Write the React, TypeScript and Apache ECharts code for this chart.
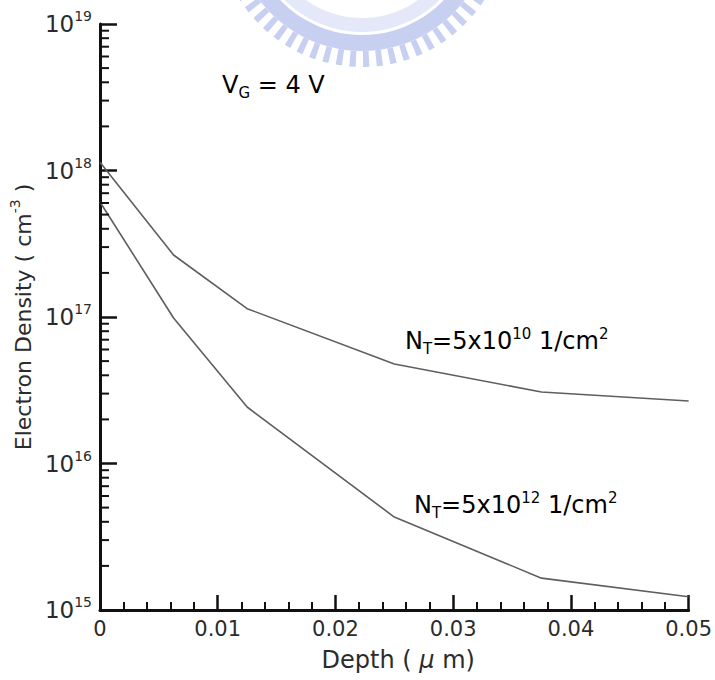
import React, { useEffect, useRef } from "react";
import * as echarts from "echarts";

const depthUm = [0, 0.00625, 0.0125, 0.025, 0.0375, 0.05];
const densityNT10 = [1.14e18, 2.65e17, 1.14e17, 4.78e16, 3.08e16, 2.67e16];
const densityNT12 = [6.1e17, 9.85e16, 2.43e16, 4.31e15, 1.65e15, 1.23e15];
const yMinExp = 15;
const yMaxExp = 19;
const minorMultipliers = [2, 3, 4, 5, 6, 7, 8, 9];

const FONT = "DejaVu Sans";
const TEXT = "#2b2b2b";
const AXIS = "#111111";
const LINE = "#5e5e5e";

export default function App() {
  const ref = useRef<HTMLDivElement>(null);
  useEffect(() => {
    if (!ref.current) return;
    const chart = echarts.init(ref.current, null, { renderer: "svg" });

    const minorTicks: number[][] = [];
    for (let e = yMinExp; e < yMaxExp; e++) {
      for (const m of minorMultipliers) minorTicks.push([0, m * Math.pow(10, e)]);
    }

    const ann = (sz: number) => ({
      a: { fontFamily: FONT, fontSize: sz, lineHeight: 30, color: TEXT },
      sub: { fontFamily: FONT, fontSize: 15, lineHeight: 16, verticalAlign: "bottom", color: TEXT },
      sup: { fontFamily: FONT, fontSize: 15, lineHeight: 22, verticalAlign: "top", color: TEXT },
    });

    chart.setOption({
      animation: false,
      backgroundColor: "#ffffff",
      grid: { left: 98, right: 25, top: 24, bottom: 70, containLabel: false },
      xAxis: {
        type: "value",
        min: 0,
        max: 0.05,
        interval: 0.01,
        name: "{a|Depth ( }{m|μ}{a| m)}",
        nameLocation: "middle",
        nameGap: 38,
        nameTextStyle: {
          padding: [0, 0, 0, 8],
          rich: {
            a: { fontFamily: FONT, fontSize: 24, color: TEXT },
            m: { fontFamily: FONT, fontSize: 24, fontStyle: "italic", color: TEXT },
          },
        },
        axisLine: { show: true, onZero: false, lineStyle: { color: AXIS, width: 3 } },
        axisTick: { show: true, inside: true, length: 15, lineStyle: { color: AXIS, width: 2.5 } },
        minorTick: { show: true, splitNumber: 5, length: 8, lineStyle: { color: AXIS, width: 2 } },
        splitLine: { show: false },
        axisLabel: {
          margin: 8,
          fontFamily: FONT,
          fontSize: 21,
          color: TEXT,
          formatter: (v: number) => (v === 0 ? "0" : v.toFixed(2)),
        },
      },
      yAxis: {
        type: "log",
        logBase: 10,
        min: Math.pow(10, yMinExp),
        max: Math.pow(10, yMaxExp),
        name: "{a|Electron Density ( cm}{s|-3}{a| )}",
        nameLocation: "middle",
        nameGap: 60,
        nameRotate: 90,
        nameTextStyle: {
          rich: {
            a: { fontFamily: FONT, fontSize: 22, lineHeight: 30, color: TEXT },
            s: { fontFamily: FONT, fontSize: 14, lineHeight: 20, verticalAlign: "top", color: TEXT },
          },
        },
        axisLine: { show: true, onZero: false, lineStyle: { color: AXIS, width: 3 } },
        axisTick: { show: true, inside: true, length: 17, lineStyle: { color: AXIS, width: 2.5 } },
        splitLine: { show: false },
        axisLabel: {
          margin: 8,
          color: TEXT,
          formatter: (v: number) => `{b|10}{s|${Math.round(Math.log10(v))}}`,
          rich: {
            b: { fontFamily: FONT, fontSize: 23, lineHeight: 30, color: TEXT },
            s: { fontFamily: FONT, fontSize: 14, lineHeight: 17, verticalAlign: "top", color: TEXT },
          },
        },
      },
      graphic: [
        {
          type: "group",
          z: -10,
          silent: true,
          children: [
            { type: "ring", shape: { cx: 362, cy: -78, r: 110, r0: 96 }, style: { fill: "#e4e8f9" } },
            { type: "ring", shape: { cx: 362, cy: -78, r: 129, r0: 113 }, style: { fill: "#c8d0f1" } },
            {
              type: "circle",
              shape: { cx: 362, cy: -78, r: 137 },
              style: { fill: "none", stroke: "#c8d0f1", lineWidth: 16, lineDash: [6, 7] },
            },
          ],
        },
        {
          type: "text",
          x: 222,
          y: 85,
          style: {
            text: "{a|V}{sub|G}{a| = 4 V}",
            verticalAlign: "middle",
            align: "left",
            rich: ann(24),
          },
        },
        {
          type: "text",
          x: 405,
          y: 341,
          style: {
            text: "{a|N}{sub|T}{a|=5x10}{sup|10}{a| 1/cm}{sup|2}",
            verticalAlign: "middle",
            align: "left",
            rich: ann(24),
          },
        },
        {
          type: "text",
          x: 414,
          y: 505,
          style: {
            text: "{a|N}{sub|T}{a|=5x10}{sup|12}{a| 1/cm}{sup|2}",
            verticalAlign: "middle",
            align: "left",
            rich: ann(24),
          },
        },
      ],
      series: [
        {
          name: "NT=5x10^10 1/cm^2",
          type: "line",
          data: depthUm.map((x, i) => [x, densityNT10[i]]),
          showSymbol: false,
          symbol: "none",
          lineStyle: { color: LINE, width: 1.6 },
          z: 3,
        },
        {
          name: "NT=5x10^12 1/cm^2",
          type: "line",
          data: depthUm.map((x, i) => [x, densityNT12[i]]),
          showSymbol: false,
          symbol: "none",
          lineStyle: { color: LINE, width: 1.6 },
          z: 3,
        },
        {
          type: "custom",
          silent: true,
          clip: false,
          z: 5,
          data: minorTicks,
          encode: { x: 0, y: 1 },
          renderItem: (params: any, api: any) => {
            const p = api.coord([api.value(0), api.value(1)]);
            return {
              type: "line",
              shape: { x1: p[0], y1: p[1], x2: p[0] + 9, y2: p[1] },
              style: { stroke: AXIS, lineWidth: 2 },
            };
          },
        },
      ],
    });
    return () => chart.dispose();
  }, []);
  return (
    <div
      ref={ref}
      style={{ position: "fixed", left: 0, top: 0, width: 715, height: 680, background: "#fff" }}
    />
  );
}
